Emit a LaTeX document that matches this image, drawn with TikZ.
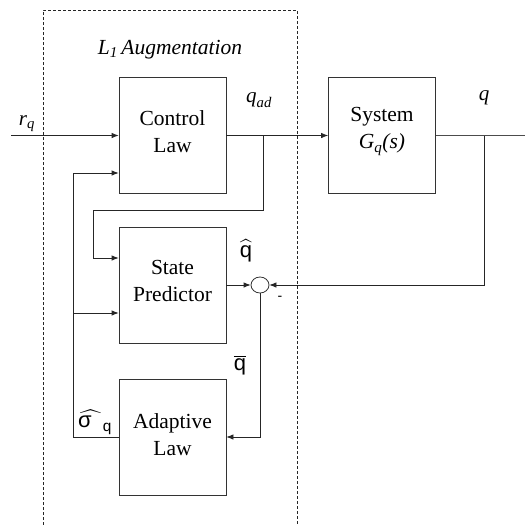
\documentclass[tikz,border=0pt]{standalone}
\usepackage{amsmath}
\usepackage{fontspec}
\setmainfont{Liberation Serif}
\setsansfont{Liberation Sans}
\usetikzlibrary{arrows.meta,shapes.geometric}
\begin{document}
\begin{tikzpicture}[x=1pt,y=-1pt,
  blk/.style={draw=black!80,line width=0.8pt,minimum width=107pt,minimum height=116pt,inner sep=0pt},
  txt/.style={inner sep=0pt,align=center,font=\rmfamily\fontsize{21.5}{27}\selectfont},
  wire/.style={draw=black!85,line width=0.8pt},
  arr/.style={wire,-{Latex[length=7pt,width=5.5pt]}},
  lbl/.style={inner sep=0pt,font=\fontsize{21}{24}\selectfont},
  slbl/.style={inner sep=0pt,font=\fontsize{22}{24}\selectfont},
  frame/.style={draw=black!85,line width=0.7pt,dash pattern=on 3pt off 2pt}]
\useasboundingbox (0,0) rectangle (525,525);
\fill[white] (0,0) rectangle (525,525);

% adaptive augmentation frame (open at the bottom)
\draw[frame] (43,525) -- (43,10) -- (297,10) -- (297,525);
\node[inner sep=0pt,font=\rmfamily\itshape\fontsize{21.5}{24}\selectfont] (title) at (170,50) {L\textsubscript{1}\,Augmentation};

% blocks
\node[blk] (cl)  at (172.5,135.5) {};
\node[blk] (sys) at (382,135.5) {};
\node[blk] (sp)  at (172.5,285) {};
\node[blk] (al)  at (172.5,437) {};
\node[txt] (clt)  at ([yshift=4pt]cl.center)  {Control\\Law};
\node[txt] (syst) at ([yshift=4pt]sys.center) {System\\\textit{G\textsubscript{q}(s)}};
\node[txt] (spt)  at ([yshift=4.5pt]sp.center) {State\\Predictor};
\node[txt] (alt)  at ([yshift=2.5pt]al.center) {Adaptive\\Law};
\node[draw=black!80,line width=0.8pt,ellipse,minimum width=18pt,minimum height=16pt,inner sep=0pt] (sum) at (260,285) {};

% points on the signal lines
\coordinate (rin)  at (11,135.5);
\coordinate (b1)   at (263,135.5);
\coordinate (k1)   at (93,210);
\coordinate (b2)   at (484,135.5);
\coordinate (qout) at (525,135.5);
\coordinate (fb)   at (73,173);
\coordinate (k4)   at (73,313);

% signal lines
\draw[arr] (rin) -- (cl.west);
\draw[arr] (cl.east) -- (sys.west);
\draw[arr] (b1) |- (k1) |- ([yshift=27pt]sp.west);
\draw[wire,line width=1.2pt,draw=black!70] (sys.east) -- (qout);
\draw[arr] (b2) |- (sum.east);
\draw[arr] (sp.east) -- (sum.west);
\draw[arr] (sum.south) |- (al.east);
\draw[arr] (al.west) -| (fb) -- ([yshift=-37.5pt]cl.west);
\draw[arr] (k4) -- ([yshift=-28pt]sp.west);

% signal labels
\node[lbl] (lr)   at (27,124) {$\textit{r}_{\textit{q}}$};
\node[lbl] (lqad) at (259,100) {$\textit{q}_{\textit{ad}}$};
\node[lbl] (lq)   at (484,98) {$\textit{q}$};
\node[slbl] (lqh)  at (246,251) {$\widehat{\textsf{q}}$};
\node[inner sep=0pt,font=\fontsize{14}{16}\selectfont\sffamily] (lm) at (280,298) {-};
\node[slbl] (lqb)  at (240,365) {$\overline{\textsf{q}}$};
\node[slbl] (ls)   at (95,422) {$\widehat{\textsf{σ}\hspace{0.5em}}_{\textsf{q}}$};
\end{tikzpicture}
\end{document}
